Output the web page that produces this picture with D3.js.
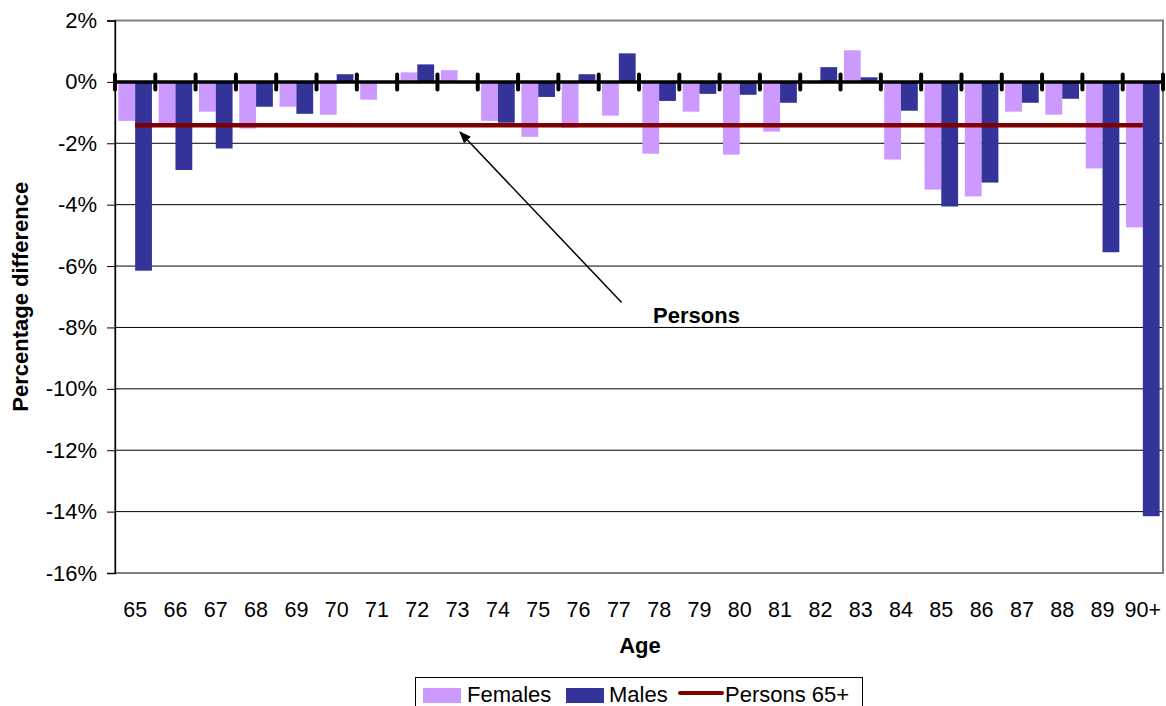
<!DOCTYPE html>
<html>
<head>
<meta charset="utf-8">
<script src="https://cdn.jsdelivr.net/npm/d3@7"></script>
<style>
  html, body { margin: 0; padding: 0; background: #fff; }
  svg { display: block; font-family: "Liberation Sans", Arial, sans-serif; }
</style>
</head>
<body>
<svg id="chart" width="1166" height="706"></svg>
<script>
// Age groups along the x axis
const ages = ["65","66","67","68","69","70","71","72","73","74","75","76","77",
              "78","79","80","81","82","83","84","85","86","87","88","89","90+"];

// Percentage difference by age, females
const females = [-1.27, -1.35, -0.97, -1.52, -0.81, -1.07, -0.58, 0.31, 0.38, -1.27,
                 -1.79, -1.49, -1.10, -2.34, -0.97, -2.37, -1.62, 0.00, 1.03, -2.53,
                 -3.51, -3.73, -0.97, -1.07, -2.82, -4.74];

// Percentage difference by age, males
const males = [-6.15, -2.87, -2.17, -0.81, -1.04, 0.25, 0.00, 0.57, 0.00, -1.33,
               -0.49, 0.25, 0.93, -0.62, -0.39, -0.42, -0.68, 0.48, 0.15, -0.94,
               -4.06, -3.28, -0.68, -0.55, -5.55, -14.15];

// Overall difference for all persons aged 65+
const persons65 = -1.41;

// Y axis ticks (percent)
const yTicks = [2, 0, -2, -4, -6, -8, -10, -12, -14, -16];

// Callout pointing at the persons line: [category position, value]
const calloutFrom = [12.57, -7.19];
const calloutTo = [8.56, -1.64];
const calloutLabel = "Persons";
const calloutLabelAt = [13.35, -7.86];

const colors = { females: "#CC99FF", males: "#333399", persons: "#800000" };

const svg = d3.select("#chart");
const plot = { left: 115, right: 1163, top: 20.5, bottom: 573 };

const x = d3.scaleBand().domain(ages).range([plot.left, plot.right]).padding(0);
const xi = d3.scaleLinear().domain([0, ages.length]).range([plot.left, plot.right]);
const inner = d3.scaleBand().domain(["F", "M"])
  .range([0, x.bandwidth()]).paddingInner(0).paddingOuter(0.2);
const y = d3.scaleLinear().domain([-16, 2]).range([plot.bottom, plot.top]);

// Horizontal gridlines
svg.append("g").selectAll("line").data(yTicks).join("line")
  .attr("x1", plot.left).attr("x2", plot.right)
  .attr("y1", d => y(d)).attr("y2", d => y(d))
  .attr("stroke", "#000").attr("stroke-width", 1);

// Plot area frame
svg.append("rect")
  .attr("x", plot.left).attr("y", plot.top)
  .attr("width", plot.right - plot.left).attr("height", plot.bottom - plot.top)
  .attr("fill", "none").attr("stroke", "#808080").attr("stroke-width", 2);

// Y axis
const yAxis = d3.axisLeft(y).tickValues(yTicks)
  .tickFormat(d => d + "%").tickSize(8).tickPadding(10);
const gy = svg.append("g").attr("transform", `translate(${plot.left},0)`).call(yAxis);
gy.select(".domain").attr("stroke", "#000").attr("stroke-width", 1.3);
gy.selectAll(".tick line").attr("stroke", "#000");
gy.selectAll("text").attr("font-size", 22).attr("fill", "#000")
  .attr("font-family", "Liberation Sans, Arial, sans-serif");

// Bars
const rows = ages.map((a, i) => ({ age: a, F: females[i], M: males[i] }));
const groups = svg.append("g").selectAll("g").data(rows).join("g")
  .attr("transform", d => `translate(${x(d.age)},0)`);
groups.selectAll("rect")
  .data(d => [{ k: "F", v: d.F }, { k: "M", v: d.M }])
  .join("rect")
  .attr("x", d => inner(d.k))
  .attr("width", inner.bandwidth())
  .attr("y", d => y(Math.max(0, d.v)))
  .attr("height", d => Math.abs(y(d.v) - y(0)))
  .attr("fill", d => d.k === "F" ? colors.females : colors.males);

// Zero line with category tick marks
svg.append("line")
  .attr("x1", plot.left).attr("x2", plot.right)
  .attr("y1", y(0)).attr("y2", y(0))
  .attr("stroke", "#000").attr("stroke-width", 3.5);
svg.append("g").selectAll("line").data(d3.range(ages.length + 1)).join("line")
  .attr("x1", d => xi(d)).attr("x2", d => xi(d))
  .attr("y1", y(0) - 7.5).attr("y2", y(0) + 7.5)
  .attr("stroke", "#000").attr("stroke-width", 4).attr("stroke-linecap", "round");

// Persons 65+ line across category centres
svg.append("line")
  .attr("x1", x(ages[0]) + x.bandwidth() / 2)
  .attr("x2", x(ages[ages.length - 1]) + x.bandwidth() / 2)
  .attr("y1", y(persons65)).attr("y2", y(persons65))
  .attr("stroke", colors.persons).attr("stroke-width", 4.5);

// X axis labels
svg.append("g").selectAll("text").data(ages).join("text")
  .attr("x", d => x(d) + x.bandwidth() / 2)
  .attr("y", 616.5)
  .attr("text-anchor", "middle").attr("font-size", 21.5).attr("fill", "#000")
  .text(d => d);

// Axis titles
svg.append("text")
  .attr("x", 640).attr("y", 653)
  .attr("text-anchor", "middle").attr("font-size", 22).attr("font-weight", "bold")
  .text("Age");
svg.append("text")
  .attr("transform", `translate(28,${(plot.top + plot.bottom) / 2 }) rotate(-90)`)
  .attr("text-anchor", "middle").attr("font-size", 22).attr("font-weight", "bold")
  .text("Percentage difference");

// Callout arrow and label
const defs = svg.append("defs");
defs.append("marker").attr("id", "arrowhead")
  .attr("viewBox", "0 0 10 10").attr("refX", 9).attr("refY", 5)
  .attr("markerWidth", 8).attr("markerHeight", 8).attr("orient", "auto")
  .append("path").attr("d", "M0,1 L10,5 L0,9 Z").attr("fill", "#000");
svg.append("line")
  .attr("x1", xi(calloutFrom[0])).attr("y1", y(calloutFrom[1]))
  .attr("x2", xi(calloutTo[0])).attr("y2", y(calloutTo[1]))
  .attr("stroke", "#000").attr("stroke-width", 1.5)
  .attr("marker-end", "url(#arrowhead)");
svg.append("text")
  .attr("x", xi(calloutLabelAt[0])).attr("y", y(calloutLabelAt[1]))
  .attr("font-size", 22).attr("font-weight", "bold")
  .text(calloutLabel);

// Legend
const legend = svg.append("g");
legend.append("rect")
  .attr("x", 415.5).attr("y", 677.5).attr("width", 447).attr("height", 40)
  .attr("fill", "#fff").attr("stroke", "#000").attr("stroke-width", 1);
const legendItems = [
  { label: "Females", type: "rect", color: colors.females, x: 423, tx: 467 },
  { label: "Males", type: "rect", color: colors.males, x: 566, tx: 609 },
  { label: "Persons 65+", type: "line", color: colors.persons, x: 680, tx: 725 }
];
legendItems.forEach(it => {
  if (it.type === "rect") {
    legend.append("rect").attr("x", it.x).attr("y", 688).attr("width", 38).attr("height", 15)
      .attr("fill", it.color);
  } else {
    legend.append("line").attr("x1", it.x).attr("x2", it.x + 42)
      .attr("y1", 693).attr("y2", 693)
      .attr("stroke", it.color).attr("stroke-width", 4).attr("stroke-linecap", "round");
  }
  legend.append("text").attr("x", it.tx).attr("y", 702)
    .attr("font-size", 22).attr("fill", "#000").text(it.label);
});
</script>
</body>
</html>
